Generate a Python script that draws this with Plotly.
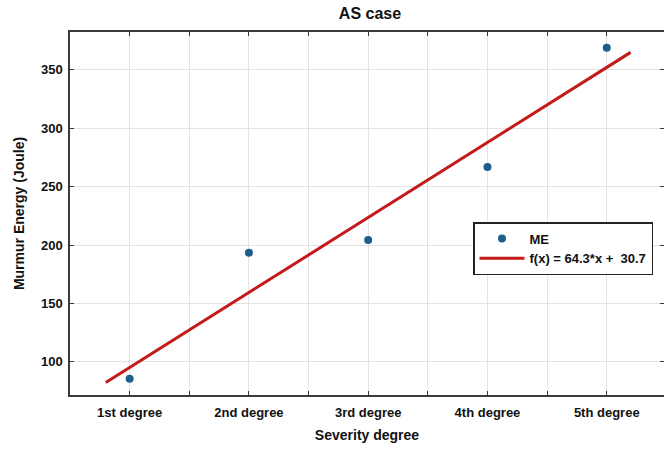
import plotly.graph_objects as go

# Severity categories and measured murmur energy
degrees = ["1st degree", "2nd degree", "3rd degree", "4th degree", "5th degree"]
degree_pos = [1, 2, 3, 4, 5]
murmur_energy = [85.4, 193.4, 204.3, 266.9, 369.0]

# Linear fit coefficients shown in the legend
slope = 64.3
intercept = 30.7
fit_x = [0.8, 5.2]

# Tick labels: labelled at each degree, blank at the half steps
tick_vals = [1, 1.5, 2, 2.5, 3, 3.5, 4, 4.5, 5]
tick_text = ["1st degree", "", "2nd degree", "", "3rd degree", "", "4th degree", "", "5th degree"]
y_ticks = [100, 150, 200, 250, 300, 350]

fit_y = [slope * x + intercept for x in fit_x]

font_family = "Liberation Sans, Arial, sans-serif"
axis_color = "#3a3a3a"
text_color = "#111111"

fig = go.Figure()
fig.add_trace(go.Scatter(
    x=degree_pos, y=murmur_energy, mode="markers", name="<b>ME</b>",
    marker=dict(color="#1d5f8c", size=8),
))
fig.add_trace(go.Scatter(
    x=fit_x, y=fit_y, mode="lines",
    name=f"<b>f(x) = {slope}*x +  {intercept}</b>",
    line=dict(color="#c41a1a", width=3),
))

fig.update_layout(
    width=664, height=452,
    margin=dict(l=70, r=0, t=32, b=57),
    paper_bgcolor="white", plot_bgcolor="white",
    font=dict(family=font_family, size=12, color=text_color),
    title=dict(text="<b>AS case</b>", x=370 / 664, xanchor="center",
               y=1 - 13 / 452, yanchor="middle",
               font=dict(size=16, color=text_color)),
    showlegend=True,
    legend=dict(
        x=(473 - 70) / 594, y=(395 - 222) / 363, xanchor="left", yanchor="top",
        bgcolor="white", bordercolor="#222222", borderwidth=1.5,
        font=dict(size=13, color=text_color),
        itemwidth=45, tracegroupgap=0,
    ),
)

tick_font = dict(size=13, weight="bold", color=text_color)

fig.update_xaxes(
    range=[0.5, 5.48], tickmode="array", tickvals=tick_vals, ticktext=tick_text,
    tickfont=tick_font, ticklabelstandoff=5,
    showgrid=True, gridcolor="#e3e3e3", gridwidth=1,
    showline=True, linecolor=axis_color, linewidth=1.5, mirror="ticks",
    ticks="inside", ticklen=4, tickcolor=axis_color, zeroline=False,
    automargin=False,
    title=dict(text="<b>Severity degree</b>", font=dict(size=14), standoff=11),
)
fig.update_yaxes(
    range=[71.5, 382.5], tickmode="array", tickvals=y_ticks,
    tickfont=tick_font, ticklabelstandoff=3,
    showgrid=True, gridcolor="#e3e3e3", gridwidth=1,
    showline=True, linecolor=axis_color, linewidth=1.5, mirror="ticks",
    ticks="inside", ticklen=4, tickcolor=axis_color, zeroline=False,
    automargin=False,
    title=dict(text="<b>Murmur Energy (Joule)</b>", font=dict(size=14), standoff=13),
)

fig.write_html("out.html")
